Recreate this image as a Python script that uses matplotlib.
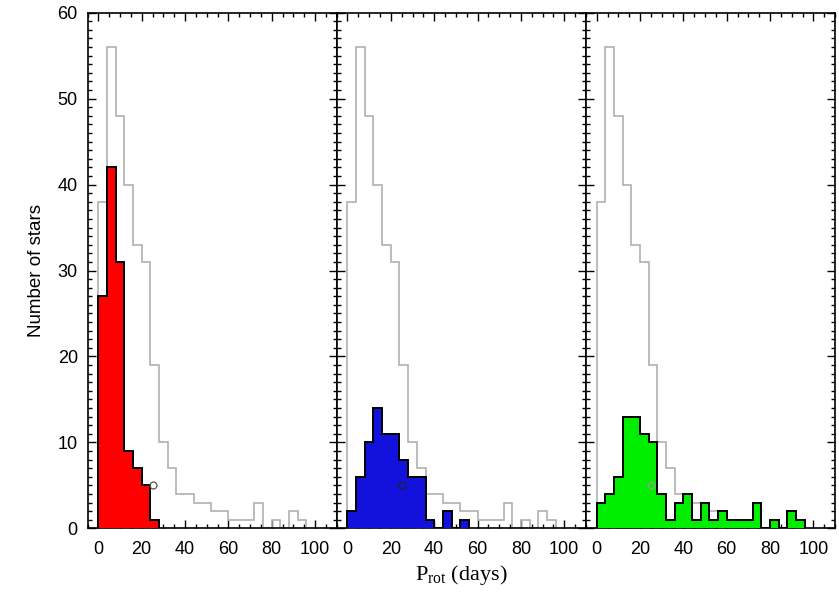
import numpy as np
import matplotlib
matplotlib.use("Agg")
import matplotlib.pyplot as plt
from matplotlib.ticker import MultipleLocator

# Rotation-period histograms, 4-day bins starting at 0
BIN_WIDTH = 4
all_counts = [38, 56, 48, 40, 33, 31, 19, 10, 7, 4, 4, 3, 3, 2, 2, 1, 1, 1, 3, 0, 1, 0, 2, 1]
red_counts = [27, 42, 31, 9, 7, 5, 1]
blue_counts = [2, 6, 10, 14, 11, 11, 8, 6, 6, 1, 0, 2, 0, 1]
green_counts = [3, 4, 6, 13, 13, 11, 10, 4, 1, 3, 4, 1, 3, 1, 2, 1, 1, 1, 3, 0, 1, 0, 2, 1]

panel_counts = [red_counts, blue_counts, green_counts]
panel_colors = ["#ff0000", "#1212dc", "#00ee00"]
marker_colors = ["#555555", "#222222", "#9a9a9a"]
marker_pos = (25, 5)

x_ticks = [0, 20, 40, 60, 80, 100]
y_ticks = [0, 10, 20, 30, 40, 50, 60]

plt.rcParams["font.family"] = ["Liberation Sans", "DejaVu Sans"]
plt.rcParams["mathtext.fontset"] = "custom"
plt.rcParams["mathtext.rm"] = "Liberation Serif"
plt.rcParams["mathtext.it"] = "Liberation Serif:italic"
plt.rcParams["mathtext.bf"] = "Liberation Serif:bold"


def edges_for(counts):
    return np.arange(len(counts) + 1) * BIN_WIDTH


fig = plt.figure(figsize=(8.39, 5.92), dpi=100)

left, right = 87.5 / 839, 835.0 / 839
bottom, top = (592 - 528.3) / 592, (592 - 12.7) / 592
w = (right - left) / 3

axes = []
for i, (counts, col) in enumerate(zip(panel_counts, panel_colors)):
    ax = fig.add_axes([left + i * w, bottom, w, top - bottom])
    axes.append(ax)

    ax.stairs(all_counts, edges_for(all_counts), baseline=0, fill=False,
              color="#b0b0b0", linewidth=1.2, zorder=2)
    ax.stairs(counts, edges_for(counts), baseline=0, fill=True,
              facecolor=col, edgecolor="black", linewidth=1.4, zorder=3)
    ax.plot(*marker_pos, "o", mfc="none", mec=marker_colors[i],
            ms=5, mew=0.9, zorder=4)

    ax.set_xlim(-5, 110)
    ax.set_ylim(0, 60)
    ax.set_xticks(x_ticks)
    ax.set_yticks(y_ticks)
    ax.xaxis.set_minor_locator(MultipleLocator(5))
    ax.yaxis.set_minor_locator(MultipleLocator(1))
    ax.tick_params(which="both", direction="in", top=True, right=True,
                   width=1.0, labelsize=13)
    ax.tick_params(which="major", length=6)
    ax.tick_params(which="minor", length=3)
    ax.tick_params(axis="x", pad=9)
    ax.tick_params(axis="y", pad=7)
    for s in ax.spines.values():
        s.set_linewidth(1.2)
    if i > 0:
        ax.set_yticklabels([])

axes[0].set_ylabel("Number of stars", fontsize=13.5, labelpad=9)
axes[1].set_xlabel(r"P$_{\rm rot}$ (days)", fontsize=16,
                   family="Liberation Serif", labelpad=4)

fig.savefig("out.png", dpi=100)
